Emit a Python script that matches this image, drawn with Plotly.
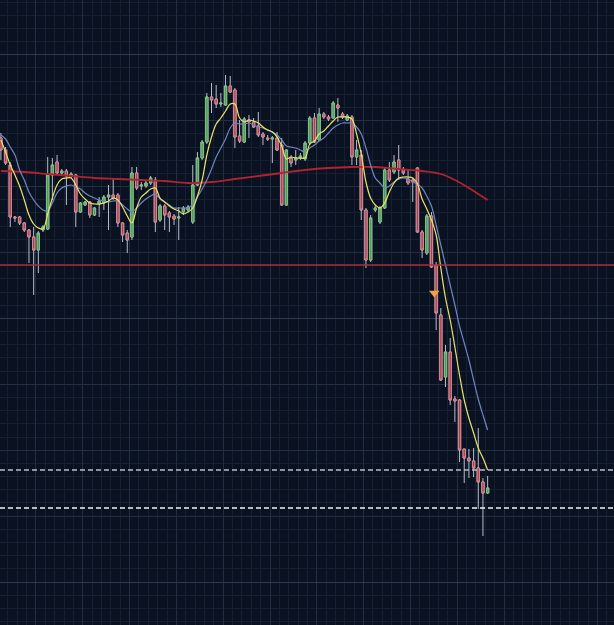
import plotly.graph_objects as go

# ---------------- data ----------------
opens = [1.0917, 1.0905, 1.0890, 1.0838, 1.0838, 1.0832, 1.0825, 1.0818, 1.0805, 1.0825,
         1.0826, 1.0880, 1.0893, 1.0882, 1.0884, 1.0879, 1.0880, 1.0843, 1.0850, 1.0853,
         1.0840, 1.0851, 1.0852, 1.0858, 1.0860, 1.0860, 1.0832, 1.0822, 1.0818, 1.0882,
         1.0869, 1.0869, 1.0872, 1.0875, 1.0835, 1.0849, 1.0842, 1.0839, 1.0837, 1.0843,
         1.0845, 1.0833, 1.0870, 1.0897, 1.0913, 1.0958, 1.0956, 1.0951, 1.0950, 1.0969,
         1.0965, 1.0919, 1.0913, 1.0935, 1.0933, 1.0929, 1.0921, 1.0917, 1.0916, 1.0917,
         1.0910, 1.0850, 1.0897, 1.0895, 1.0897, 1.0896, 1.0912, 1.0937, 1.0915, 1.0941,
         1.0938, 1.0937, 1.0950, 1.0941, 1.0935, 1.0938, 1.0898, 1.0900, 1.0845, 1.0795,
         1.0845, 1.0833, 1.0847, 1.0885, 1.0883, 1.0895, 1.0885, 1.0876, 1.0875, 1.0887,
         1.0823, 1.0802, 1.0839, 1.0790, 1.0740, 1.0678, 1.0703, 1.0656, 1.0655, 1.0606,
         1.0597, 1.0594, 1.0587, 1.0573, 1.0562]
highs = [1.0922, 1.0908, 1.0893, 1.0839, 1.0839, 1.0833, 1.0826, 1.0828, 1.0824, 1.0830,
         1.0898, 1.0897, 1.0900, 1.0886, 1.0886, 1.0883, 1.0881, 1.0853, 1.0854, 1.0854,
         1.0848, 1.0858, 1.0860, 1.0870, 1.0877, 1.0862, 1.0833, 1.0825, 1.0888, 1.0888,
         1.0873, 1.0875, 1.0879, 1.0878, 1.0851, 1.0851, 1.0844, 1.0841, 1.0848, 1.0849,
         1.0850, 1.0890, 1.0903, 1.0915, 1.0962, 1.0972, 1.0970, 1.0962, 1.0980, 1.0979,
         1.0967, 1.0935, 1.0938, 1.0940, 1.0937, 1.0943, 1.0923, 1.0920, 1.0919, 1.0923,
         1.0917, 1.0906, 1.0900, 1.0905, 1.0902, 1.0914, 1.0939, 1.0942, 1.0947, 1.0943,
         1.0940, 1.0954, 1.0957, 1.0943, 1.0941, 1.0940, 1.0915, 1.0905, 1.0847, 1.0840,
         1.0850, 1.0849, 1.0887, 1.0893, 1.0900, 1.0910, 1.0888, 1.0885, 1.0877, 1.0888,
         1.0825, 1.0841, 1.0843, 1.0793, 1.0747, 1.0710, 1.0717, 1.0659, 1.0656, 1.0606,
         1.0606, 1.0607, 1.0627, 1.0577, 1.0579]
lows = [1.0895, 1.0890, 1.0828, 1.0833, 1.0830, 1.0823, 1.0792, 1.0760, 1.0782, 1.0823,
        1.0825, 1.0855, 1.0880, 1.0879, 1.0850, 1.0877, 1.0828, 1.0842, 1.0849, 1.0837,
        1.0839, 1.0838, 1.0845, 1.0825, 1.0855, 1.0828, 1.0813, 1.0802, 1.0815, 1.0865,
        1.0865, 1.0867, 1.0870, 1.0823, 1.0833, 1.0825, 1.0823, 1.0830, 1.0815, 1.0840,
        1.0843, 1.0831, 1.0869, 1.0895, 1.0911, 1.0942, 1.0947, 1.0948, 1.0949, 1.0962,
        1.0907, 1.0912, 1.0912, 1.0917, 1.0927, 1.0918, 1.0910, 1.0914, 1.0892, 1.0904,
        1.0849, 1.0849, 1.0888, 1.0890, 1.0895, 1.0894, 1.0910, 1.0912, 1.0914, 1.0936,
        1.0934, 1.0936, 1.0933, 1.0936, 1.0934, 1.0890, 1.0890, 1.0835, 1.0787, 1.0793,
        1.0843, 1.0831, 1.0846, 1.0873, 1.0881, 1.0875, 1.0880, 1.0870, 1.0853, 1.0822,
        1.0797, 1.0800, 1.0787, 1.0725, 1.0674, 1.0668, 1.0650, 1.0633, 1.0593, 1.0572,
        1.0577, 1.0578, 1.0546, 1.0519, 1.0561]
closes = [1.0905, 1.0892, 1.0838, 1.0837, 1.0832, 1.0825, 1.0818, 1.0805, 1.0822, 1.0828,
          1.0880, 1.0890, 1.0882, 1.0884, 1.0879, 1.0881, 1.0843, 1.0852, 1.0853, 1.0840,
          1.0847, 1.0854, 1.0858, 1.0860, 1.0857, 1.0832, 1.0820, 1.0815, 1.0882, 1.0867,
          1.0870, 1.0872, 1.0877, 1.0833, 1.0849, 1.0840, 1.0838, 1.0836, 1.0838, 1.0847,
          1.0848, 1.0870, 1.0897, 1.0913, 1.0958, 1.0955, 1.0951, 1.0952, 1.0969, 1.0963,
          1.0918, 1.0914, 1.0936, 1.0933, 1.0928, 1.0920, 1.0918, 1.0916, 1.0917, 1.0905,
          1.0850, 1.0905, 1.0892, 1.0897, 1.0899, 1.0912, 1.0937, 1.0913, 1.0941, 1.0938,
          1.0936, 1.0952, 1.0947, 1.0938, 1.0939, 1.0898, 1.0905, 1.0845, 1.0795, 1.0837,
          1.0847, 1.0847, 1.0885, 1.0875, 1.0893, 1.0885, 1.0882, 1.0872, 1.0873, 1.0823,
          1.0805, 1.0839, 1.0788, 1.0742, 1.0675, 1.0703, 1.0655, 1.0654, 1.0605, 1.0597,
          1.0594, 1.0587, 1.0573, 1.0562, 1.0567]

ma_fast = [1.0915, 1.0903, 1.0890, 1.0880, 1.0869, 1.0855, 1.0840, 1.0831, 1.0827, 1.0826,
           1.0841, 1.0857, 1.0870, 1.0876, 1.0877, 1.0877, 1.0870, 1.0861, 1.0856, 1.0852,
           1.0851, 1.0851, 1.0852, 1.0854, 1.0857, 1.0855, 1.0848, 1.0839, 1.0832, 1.0847,
           1.0858, 1.0862, 1.0866, 1.0867, 1.0857, 1.0853, 1.0849, 1.0846, 1.0844, 1.0841,
           1.0843, 1.0847, 1.0859, 1.0875, 1.0900, 1.0918, 1.0931, 1.0937, 1.0944, 1.0951,
           1.0951, 1.0937, 1.0933, 1.0935, 1.0934, 1.0932, 1.0928, 1.0925, 1.0923, 1.0918,
           1.0909, 1.0896, 1.0898, 1.0897, 1.0897, 1.0897, 1.0911, 1.0914, 1.0921, 1.0924,
           1.0929, 1.0934, 1.0938, 1.0938, 1.0938, 1.0936, 1.0921, 1.0901, 1.0873, 1.0857,
           1.0850, 1.0847, 1.0852, 1.0863, 1.0872, 1.0877, 1.0878, 1.0878, 1.0877, 1.0871,
           1.0856, 1.0846, 1.0835, 1.0820, 1.0787, 1.0757, 1.0735, 1.0708, 1.0680, 1.0655,
           1.0637, 1.0622, 1.0607, 1.0597, 1.0585]
ma_mid = [1.0920, 1.0916, 1.0908, 1.0900, 1.0885, 1.0875, 1.0863, 1.0855, 1.0849, 1.0845,
          1.0844, 1.0852, 1.0862, 1.0867, 1.0869, 1.0870, 1.0868, 1.0866, 1.0862, 1.0859,
          1.0857, 1.0855, 1.0854, 1.0853, 1.0854, 1.0854, 1.0850, 1.0846, 1.0843, 1.0847,
          1.0852, 1.0856, 1.0859, 1.0861, 1.0856, 1.0853, 1.0850, 1.0847, 1.0847, 1.0847,
          1.0847, 1.0851, 1.0858, 1.0866, 1.0875, 1.0886, 1.0898, 1.0907, 1.0916, 1.0927,
          1.0932, 1.0931, 1.0931, 1.0932, 1.0930, 1.0928, 1.0927, 1.0925, 1.0923, 1.0920,
          1.0915, 1.0909, 1.0908, 1.0907, 1.0905, 1.0903, 1.0907, 1.0910, 1.0914, 1.0917,
          1.0922, 1.0927, 1.0930, 1.0932, 1.0932, 1.0932, 1.0928, 1.0921, 1.0907, 1.0890,
          1.0877, 1.0872, 1.0867, 1.0869, 1.0873, 1.0876, 1.0877, 1.0876, 1.0873, 1.0871,
          1.0867, 1.0859, 1.0849, 1.0830, 1.0810, 1.0790, 1.0770, 1.0750, 1.0729, 1.0712,
          1.0695, 1.0675, 1.0656, 1.0640, 1.0625]
ma_slow_bars = [0, 5, 10, 15, 20, 25, 30, 35, 40, 45, 50, 55, 60, 65, 70, 75, 80, 85, 90,
                94, 97, 100, 102, 104]
ma_slow = [1.0884, 1.0883, 1.0881, 1.0879, 1.0877, 1.0876, 1.0875, 1.0874, 1.0872, 1.0873,
           1.0876, 1.0879, 1.0882, 1.0885, 1.0887, 1.0888, 1.0888, 1.0886, 1.0884, 1.0881,
           1.0875, 1.0867, 1.0861, 1.0855]

level_red = 1.0790
level_dash_upper = 1.0585
level_dash_lower = 1.0547
signal_bar = [92.6]
signal_price = [1.0762]

# ---------------- styling ----------------
BG = "#0a1222"
MINOR = "#152033"
MAJOR = "#222e44"
BRIGHT = "#2e3a52"

bars = list(range(len(opens)))
body_hi = [max(o, c) for o, c in zip(opens, closes)]
body_lo = [min(o, c) for o, c in zip(opens, closes)]

fig = go.Figure()

# wicks (grey)
fig.add_trace(go.Candlestick(
    x=bars, open=opens, high=highs, low=lows, close=closes,
    increasing=dict(line=dict(color="#b9bec8", width=1), fillcolor="#b9bec8"),
    decreasing=dict(line=dict(color="#b9bec8", width=1), fillcolor="#b9bec8"),
    whiskerwidth=0, showlegend=False, hoverinfo="skip"))
# coloured bodies
fig.add_trace(go.Candlestick(
    x=bars, open=opens, high=body_hi, low=body_lo, close=closes,
    increasing=dict(line=dict(color="#7cc07f", width=1), fillcolor="#4f9a57"),
    decreasing=dict(line=dict(color="#d9838d", width=1), fillcolor="#9e4552"),
    whiskerwidth=0, showlegend=False, hoverinfo="skip"))

fig.add_trace(go.Scatter(x=ma_slow_bars, y=ma_slow, mode="lines", line_shape="spline",
                         line=dict(color="#b3222f", width=1.8), showlegend=False))
fig.add_trace(go.Scatter(x=bars, y=ma_mid, mode="lines", line_shape="spline",
                         line=dict(color="#6f86bf", width=1.2), showlegend=False))
fig.add_trace(go.Scatter(x=bars, y=ma_fast, mode="lines", line_shape="spline",
                         line=dict(color="#ece36a", width=1.2), showlegend=False))
fig.add_trace(go.Scatter(x=signal_bar, y=signal_price, mode="markers",
                         marker=dict(symbol="triangle-down", size=9, color="#eea443",
                                     line=dict(width=0)), showlegend=False))
# dummy trace for the overlay grid axis
fig.add_trace(go.Scatter(x=[None], y=[None], yaxis="y2", showlegend=False))

fig.add_hline(y=level_red, line=dict(color="#a82c3a", width=1.3))
fig.add_hline(y=level_dash_upper, line=dict(color="#b9bdc9", width=1.3, dash="5px,3px"))
fig.add_hline(y=level_dash_lower, line=dict(color="#f2f2f2", width=1.3, dash="5px,3px"))

yr = [1.0430, 1.1055]
fig.update_layout(
    width=614, height=625, autosize=False,
    margin=dict(l=0, r=0, t=0, b=0),
    paper_bgcolor=BG, plot_bgcolor=BG,
    showlegend=False,
    xaxis=dict(range=[-0.19, 131.0], showticklabels=False, ticks="", zeroline=False,
               showline=False, rangeslider=dict(visible=False),
               showgrid=True, gridcolor=MAJOR, gridwidth=1, tick0=7.5, dtick=10,
               minor=dict(showgrid=True, gridcolor=MINOR, gridwidth=1, tick0=7.5, dtick=2)),
    yaxis=dict(range=yr, showticklabels=False, ticks="", zeroline=False, showline=False,
               showgrid=True, gridcolor=MAJOR, gridwidth=1, tick0=1.0473, dtick=0.00659,
               minor=dict(showgrid=True, gridcolor=MINOR, gridwidth=1, tick0=1.0473,
                          dtick=0.001318)),
    yaxis2=dict(range=yr, overlaying="y", showticklabels=False, ticks="", zeroline=False,
                showline=False, showgrid=True, gridcolor=BRIGHT, gridwidth=1,
                tick0=1.0473, dtick=0.02636),
)

fig.write_html("out.html")
